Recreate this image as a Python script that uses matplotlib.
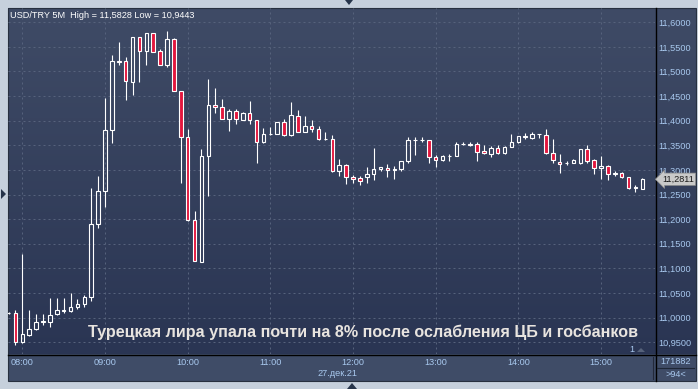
import matplotlib
matplotlib.use('Agg')
import matplotlib.pyplot as plt
import numpy as np
from matplotlib.patches import Rectangle, Polygon
from matplotlib.ticker import FuncFormatter

# 5-minute candles, index 0 = 08:00
idx = list(range(-2, 91))
opens = [11.009, 11.010, 10.950, 10.965, 10.976, 10.992, 10.991, 11.007, 11.014, 11.014,
         11.021, 11.027, 11.041, 11.191, 11.258, 11.381, 11.521, 11.521, 11.478, 11.570,
         11.542, 11.578, 11.541, 11.514, 11.566, 11.460, 11.366, 11.198, 11.113, 11.328,
         11.431, 11.428, 11.404, 11.420, 11.402, 11.415, 11.401, 11.356, 11.373, 11.374,
         11.397, 11.370, 11.409, 11.378, 11.389, 11.383, 11.363, 11.363, 11.297, 11.309,
         11.285, 11.283, 11.285, 11.291, 11.301, 11.303, 11.300, 11.301, 11.318, 11.360,
         11.360, 11.360, 11.326, 11.320, 11.328, 11.329, 11.352, 11.353, 11.352, 11.339,
         11.333, 11.344, 11.334, 11.347, 11.356, 11.367, 11.365, 11.372, 11.371, 11.335,
         11.317, 11.314, 11.315, 11.315, 11.342, 11.320, 11.303, 11.308, 11.292, 11.294,
         11.285, 11.264, 11.262]
highs = [11.011, 11.015, 11.129, 11.015, 11.007, 11.007, 11.040, 11.040, 11.040, 11.049,
         11.037, 11.046, 11.263, 11.288, 11.446, 11.534, 11.560, 11.530, 11.570, 11.571,
         11.579, 11.579, 11.545, 11.5828, 11.568, 11.461, 11.383, 11.217, 11.343, 11.485,
         11.466, 11.444, 11.424, 11.424, 11.418, 11.440, 11.402, 11.385, 11.387, 11.398,
         11.404, 11.439, 11.422, 11.410, 11.401, 11.389, 11.377, 11.370, 11.322, 11.313,
         11.289, 11.287, 11.305, 11.344, 11.306, 11.313, 11.307, 11.319, 11.366, 11.366,
         11.366, 11.361, 11.330, 11.331, 11.333, 11.356, 11.356, 11.356, 11.356, 11.350,
         11.349, 11.350, 11.348, 11.373, 11.369, 11.375, 11.377, 11.374, 11.383, 11.363,
         11.332, 11.319, 11.322, 11.343, 11.350, 11.322, 11.329, 11.310, 11.298, 11.296,
         11.286, 11.269, 11.283]
lows = [11.008, 10.9443, 10.948, 10.963, 10.975, 10.985, 10.981, 11.006, 11.010, 11.012,
        11.017, 11.021, 11.034, 11.183, 11.225, 11.355, 11.513, 11.442, 11.453, 11.479,
        11.514, 11.539, 11.513, 11.509, 11.460, 11.274, 11.197, 11.114, 11.112, 11.248,
        11.415, 11.403, 11.380, 11.393, 11.401, 11.393, 11.315, 11.355, 11.370, 11.373,
        11.368, 11.368, 11.377, 11.377, 11.377, 11.361, 11.361, 11.296, 11.288, 11.272,
        11.274, 11.270, 11.274, 11.280, 11.298, 11.286, 11.281, 11.298, 11.315, 11.330,
        11.356, 11.315, 11.305, 11.319, 11.319, 11.328, 11.350, 11.349, 11.319, 11.333,
        11.327, 11.333, 11.332, 11.346, 11.355, 11.363, 11.363, 11.364, 11.332, 11.315,
        11.294, 11.310, 11.314, 11.313, 11.315, 11.292, 11.281, 11.280, 11.288, 11.284,
        11.262, 11.256, 11.261]
closes = [11.010, 10.950, 10.967, 10.976, 10.992, 10.993, 11.006, 11.015, 11.015, 11.021,
          11.027, 11.042, 11.191, 11.258, 11.381, 11.521, 11.520, 11.480, 11.570, 11.542,
          11.578, 11.540, 11.514, 11.566, 11.461, 11.366, 11.198, 11.115, 11.328, 11.431,
          11.427, 11.404, 11.420, 11.403, 11.415, 11.401, 11.356, 11.372, 11.374, 11.397,
          11.370, 11.411, 11.378, 11.389, 11.384, 11.362, 11.362, 11.297, 11.309, 11.285,
          11.281, 11.278, 11.291, 11.301, 11.305, 11.299, 11.301, 11.318, 11.360, 11.361,
          11.361, 11.326, 11.320, 11.328, 11.329, 11.352, 11.353, 11.351, 11.337, 11.334,
          11.344, 11.334, 11.347, 11.356, 11.368, 11.368, 11.372, 11.373, 11.334, 11.321,
          11.313, 11.315, 11.320, 11.342, 11.319, 11.303, 11.307, 11.292, 11.293, 11.285,
          11.264, 11.265, 11.2811]

hour_idx = [0, 12, 24, 36, 48, 60, 72, 84]
hour_labels = ['08:00', '09:00', '10:00', '11:00', '12:00', '13:00', '14:00', '15:00']
price_ticks = [10.95, 11.00, 11.05, 11.10, 11.15, 11.20, 11.25, 11.30,
               11.35, 11.40, 11.45, 11.50, 11.55, 11.60]

caption = 'Турецкая лира упала почти на 8% после ослабления ЦБ и госбанков'
header = 'USD/TRY 5M  High = 11,5828 Low = 10,9443'

W, H = 698, 389
FONT = 'Liberation Sans'
AXIS_BLUE = '#a8c8ee'
RED = '#e3173e'

fig = plt.figure(figsize=(W / 100, H / 100), dpi=100)
fig.patch.set_facecolor('#c6d0dc')

# background layer in pixel coordinates
bg = fig.add_axes([0, 0, 1, 1], zorder=0)
bg.axis('off')


def gradient(x0, x1, y0, y1, top, bottom):
    c0 = np.array(matplotlib.colors.to_rgb(top))
    c1 = np.array(matplotlib.colors.to_rgb(bottom))
    t = np.linspace(0, 1, 256)[:, None, None]
    arr = c0 * (1 - t) + c1 * t
    bg.imshow(arr, extent=(x0, x1, y1, y0), origin='upper', aspect='auto',
              interpolation='bilinear', zorder=0)


gradient(8, 655, 8, 354, '#3f4b66', '#2a3553')
gradient(655, 696, 8, 354, '#3f4b66', '#2a3553')
bg.add_patch(Rectangle((8, 354), 688, 27, fc='#3f4c67', ec='none', zorder=0.5))
bg.add_patch(Rectangle((8, 8), 688, 373, fc='none', ec='#27303f', lw=0.8, zorder=2))
bg.plot([8, 696], [354.5, 354.5], color='black', lw=1.0, zorder=3)
bg.plot([655.5, 655.5], [8, 381], color='black', lw=1.0, zorder=3)
bg.plot([652.5, 652.5], [357, 379], color='#23293a', lw=0.8, zorder=3)
bg.plot([657, 694], [368, 368], color='#1e2736', lw=0.8, zorder=3)
# small navigation arrows on the border
bg.add_patch(Polygon([[345, 0], [353, 0], [349, 5]], closed=True, fc='#26344a', ec='none'))
bg.add_patch(Polygon([[1, 189], [1, 199], [6, 194]], closed=True, fc='#26344a', ec='none'))
bg.add_patch(Polygon([[347, 389], [357, 389], [352, 383]], closed=True, fc='#26344a', ec='none'))
bg.add_patch(Polygon([[637, 352], [645, 352], [641, 348]], closed=True, fc='#56627a', ec='none'))
bg.set_xlim(0, W)
bg.set_ylim(H, 0)

# main chart
ax = fig.add_axes([8 / W, 1 - 354 / H, 647 / W, 346 / H], zorder=2)
ax.set_facecolor('none')
for s in ax.spines.values():
    s.set_visible(False)

ax.set_xlim(-2.08, 91.84)
ax.set_ylim(10.926, 11.629)

ax.set_yticks(price_ticks)
ax.set_xticks(hour_idx)
ax.set_xticklabels(hour_labels)
ax.yaxis.tick_right()
ax.yaxis.set_major_formatter(FuncFormatter(lambda v, p: f'{v:.4f}'.replace('.', ',')))
ax.tick_params(axis='y', length=0, pad=2.6, labelsize=6.6, labelcolor=AXIS_BLUE)
ax.tick_params(axis='x', length=0, pad=3.2, labelsize=6.6, labelcolor=AXIS_BLUE)
for lab in ax.get_xticklabels() + ax.get_yticklabels():
    lab.set_fontfamily(FONT)
ax.grid(True, color='#56627c', lw=0.72, linestyle=(0, (2, 3)))
ax.set_axisbelow(True)

bw = 0.52
for i, o, h, l, c in zip(idx, opens, highs, lows, closes):
    top, bot = max(o, c), min(o, c)
    ax.plot([i, i], [top, h], color='white', lw=0.8, zorder=3, solid_capstyle='butt')
    ax.plot([i, i], [l, bot], color='white', lw=0.8, zorder=3, solid_capstyle='butt')
    fc = RED if c < o else 'none'
    ax.add_patch(Rectangle((i - bw / 2, bot), bw, max(top - bot, 0.0004),
                           fc=fc, ec='white', lw=0.8, zorder=4))

# header
ax.text(0.003, 0.979, header, transform=ax.transAxes, color='white',
        fontsize=6.6, family=FONT, va='center', ha='left')

# caption, scaled to the reference width
cap = ax.text((88 - 8) / 647, (354 - 336.7) / 346, caption, transform=ax.transAxes,
              color='#e8e4df', fontsize=12.5, family=FONT, fontweight='bold',
              va='baseline', ha='left', zorder=6)
fig.canvas.draw()
wpx = cap.get_window_extent().width
cap.set_fontsize(12.5 * 549 / wpx)

ax.text((632 - 8) / 647, (354 - 349) / 346, '1', transform=ax.transAxes,
        color=AXIS_BLUE, fontsize=6.6, family=FONT, ha='center', va='center')

# last price tag
last = closes[-1]
ax.text(1 + 7 / 647, last, f'{last:.4f}'.replace('.', ','),
        transform=ax.get_yaxis_transform(), color='#1a1a1a', fontsize=6.6,
        family=FONT, va='center', ha='left', clip_on=False, zorder=10,
        bbox=dict(boxstyle='larrow,pad=0.18', fc='#c9c9c9', ec='#8d8d8d', lw=0.5))

# date and bottom-right boxes
fig.text(337 / W, 1 - 373 / H, '27.дек.21', color=AXIS_BLUE, fontsize=6.6,
         family=FONT, ha='center', va='center')
fig.text(676 / W, 1 - 361.5 / H, '171882', color=AXIS_BLUE, fontsize=6.6,
         family=FONT, ha='center', va='center')
fig.text(676 / W, 1 - 374.5 / H, '>94<', color=AXIS_BLUE, fontsize=6.6,
         family=FONT, ha='center', va='center')

fig.savefig('out.png', dpi=100, facecolor=fig.get_facecolor())
